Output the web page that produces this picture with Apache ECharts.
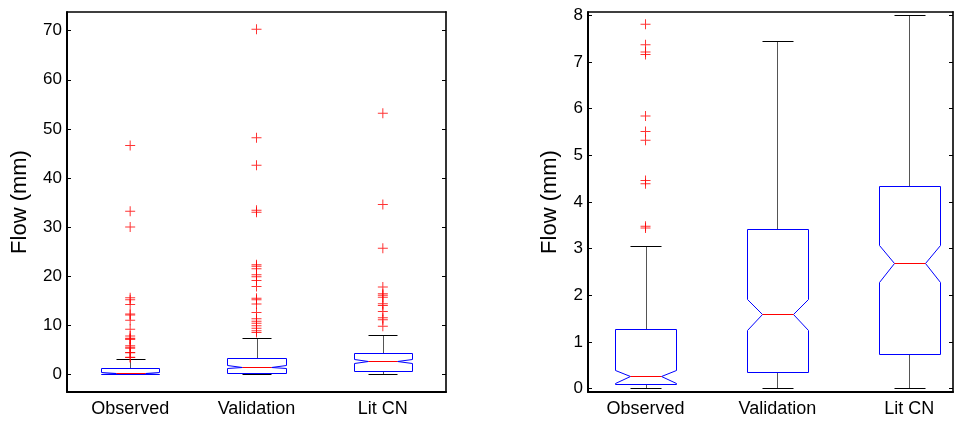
<!DOCTYPE html>
<html>
<head>
<meta charset="utf-8">
<script src="https://cdn.jsdelivr.net/npm/echarts@6/dist/echarts.min.js"></script>
<style>
  html, body { margin: 0; padding: 0; background: #fff; }
  #chart { width: 955px; height: 421px; }
</style>
</head>
<body>
<div id="chart"></div>
<script>
// Group names along the x axis
const categories = ['Observed', 'Validation', 'Lit CN'];

// Box statistics per group (mm)
const whiskerLow  = [0.02, 0.02, 0.02];
const q1          = [0.10, 0.36, 0.73];
const notchLow    = [0.11, 1.26, 2.29];
const median      = [0.26, 1.59, 2.69];
const notchHigh   = [0.39, 1.91, 3.07];
const q3          = [1.28, 3.42, 4.35];
const whiskerHigh = [3.05, 7.44, 8.00];

// Outliers per group (mm)
const outliersObserved = [3.44, 3.48, 4.39, 4.46, 5.32, 5.51, 5.84, 7.16, 7.21, 7.37, 7.81,
  9.2, 11.0, 12.1, 12.3, 14.2, 15.2, 15.6, 30.0, 33.2, 46.6];
const outliersValidation = [8.5, 8.9, 9.4, 9.9, 10.4, 10.8, 11.3, 12.6, 14.3, 15.2, 15.5,
  17.9, 19.1, 19.9, 20.3, 21.5, 22.0, 22.3, 33.0, 33.4, 42.6, 48.2, 70.3];
const outliersLitCN = [9.8, 11.1, 11.5, 12.8, 14.0, 14.4, 15.7, 16.1, 16.4, 17.8, 25.7, 34.6, 53.2];

// Tick labels of the two panels
const ticksFull = [0, 10, 20, 30, 40, 50, 60, 70];
const ticksZoom = [0, 1, 2, 3, 4, 5, 6, 7, 8];

const FONT = 'Liberation Sans, Arial, Helvetica, sans-serif';
const BOX_W = 0.46;

const boxData = categories.map((c, i) => [i + 1, whiskerLow[i], q1[i], notchLow[i], median[i],
  notchHigh[i], q3[i], whiskerHigh[i]]);
const outlierGroups = [outliersObserved, outliersValidation, outliersLitCN];
const outlierData = [];
outlierGroups.forEach((arr, i) => arr.forEach(v => outlierData.push([i + 1, v])));

// Notched box: blue outline, red median, grey whiskers with black caps
function renderBox(params, api) {
  const x = api.value(0);
  const wl = api.value(1), b1 = api.value(2), nl = api.value(3), md = api.value(4);
  const nh = api.value(5), b3 = api.value(6), wh = api.value(7);
  const h = BOX_W / 2, q = BOX_W / 4;
  // snap to pixel centres so 1px strokes stay crisp
  const P = (dx, y) => {
    const c = api.coord([x + dx, y]);
    return [Math.round(c[0]) + 0.5, Math.round(c[1]) + 0.5];
  };
  const box = [P(-h, b1), P(-h, nl), P(-q, md), P(-h, nh), P(-h, b3),
    P(h, b3), P(h, nh), P(q, md), P(h, nl), P(h, b1)];
  const line = (a, b, color) => ({
    type: 'line',
    shape: { x1: a[0], y1: a[1], x2: b[0], y2: b[1] },
    style: { stroke: color, lineWidth: 1 }
  });
  return {
    type: 'group',
    children: [
      line(P(0, b3), P(0, wh), '#555'),
      line(P(0, b1), P(0, wl), '#555'),
      line(P(-q, wh), P(q, wh), '#000'),
      line(P(-q, wl), P(q, wl), '#000'),
      { type: 'polygon', shape: { points: box }, style: { fill: 'none', stroke: '#0000ff', lineWidth: 1 } },
      line(P(-q, md), P(q, md), '#ff0000')
    ]
  };
}

const PLUS = 'path://M4.5,0h1v4.5h4.5v1h-4.5v4.5h-1v-4.5h-4.5v-1h4.5z';

const panels = [
  { grid: { left: 67, top: 12, width: 379, height: 380 }, xmin: 0.5, xmax: 3.5,
    ymin: -3.6, ymax: 73.8, ticks: ticksFull, nameGap: 36 },
  { grid: { left: 588, top: 12, width: 365, height: 380 }, xmin: 0.564, xmax: 3.331,
    ymin: -0.075, ymax: 8.07, ticks: ticksZoom, nameGap: 27 }
];

const option = {
  animation: false,
  backgroundColor: '#fff',
  grid: panels.map(p => Object.assign({ containLabel: false }, p.grid)),
  xAxis: [],
  yAxis: [],
  series: []
};

panels.forEach((p, k) => {
  option.xAxis.push({
    type: 'value', gridIndex: k, position: 'bottom', min: p.xmin, max: p.xmax,
    axisLine: { show: true, onZero: false, lineStyle: { color: '#000', width: 2 } },
    axisTick: { show: false },
    splitLine: { show: false },
    axisLabel: {
      customValues: [1, 2, 3],
      formatter: v => categories[Math.round(v) - 1] || '',
      color: '#000', fontFamily: FONT, fontSize: 18, margin: 8
    }
  });
  option.xAxis.push({
    type: 'value', gridIndex: k, position: 'top', min: p.xmin, max: p.xmax,
    axisLine: { show: true, onZero: false, lineStyle: { color: '#000', width: 1.5 } },
    axisTick: { show: false }, axisLabel: { show: false }, splitLine: { show: false }
  });
  option.yAxis.push({
    type: 'value', gridIndex: k, position: 'left', min: p.ymin, max: p.ymax,
    name: 'Flow (mm)', nameLocation: 'middle', nameGap: p.nameGap,
    nameTextStyle: { color: '#000', fontFamily: FONT, fontSize: 22 },
    axisLine: { show: true, onZero: false, lineStyle: { color: '#000', width: 2 } },
    axisTick: { show: true, inside: true, length: 4, customValues: p.ticks, lineStyle: { color: '#000' } },
    axisLabel: { customValues: p.ticks, color: '#000', fontFamily: FONT, fontSize: 17, margin: 5 },
    splitLine: { show: false }
  });
  option.yAxis.push({
    type: 'value', gridIndex: k, position: 'right', min: p.ymin, max: p.ymax,
    axisLine: { show: true, onZero: false, lineStyle: { color: '#333', width: 2 } },
    axisTick: { show: true, inside: true, length: 4, customValues: p.ticks, lineStyle: { color: '#000' } },
    axisLabel: { show: false },
    splitLine: { show: false }
  });
  option.series.push({
    type: 'custom', xAxisIndex: 2 * k, yAxisIndex: 2 * k, clip: true,
    renderItem: renderBox, data: boxData, silent: true
  });
  option.series.push({
    type: 'scatter', xAxisIndex: 2 * k, yAxisIndex: 2 * k, clip: true,
    symbol: PLUS, symbolSize: 10, itemStyle: { color: '#ff0000' },
    data: outlierData, silent: true
  });
});

const chart = echarts.init(document.getElementById('chart'), null, { renderer: 'canvas' });
chart.setOption(option);
</script>
</body>
</html>
